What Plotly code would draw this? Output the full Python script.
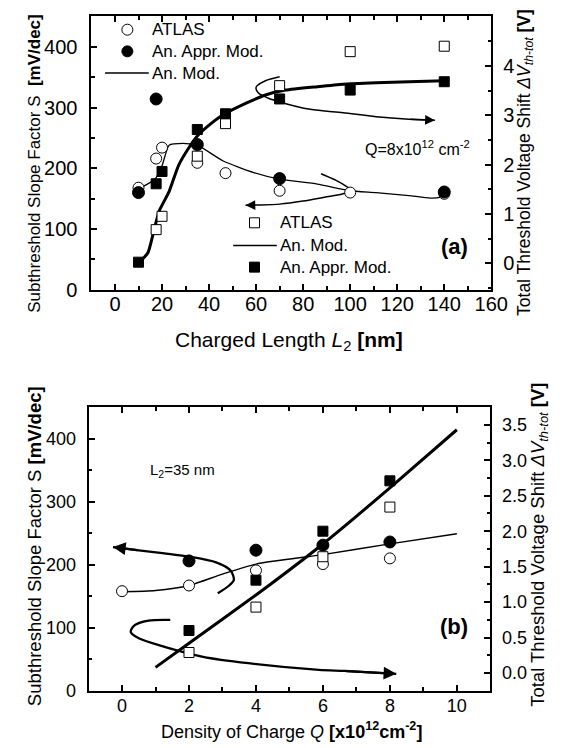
import plotly.graph_objects as go

# ---------------- Panel (a) data: vs charged length L2 [nm] ----------------
L2_atlas_S = [10, 17.5, 20, 35, 47, 70, 100, 140]
S_atlas_a = [168, 216, 234, 209, 192, 163, 160, 158]
L2_appr_S = [10, 17.5, 35, 70, 140]
S_appr_a = [160, 314, 239, 183, 161]
L2_mod_S = [10, 17, 20, 23, 29, 35, 46, 59, 70, 86, 100, 111, 125, 134, 138, 140]
S_mod_a = [166, 182, 204, 238, 241, 238, 212, 193, 182, 174, 163, 160, 155, 151, 152, 157]

L2_atlas_V = [17.5, 20, 35, 47, 70, 100, 140]
V_atlas_a = [0.68, 0.95, 2.17, 2.83, 3.60, 4.29, 4.40]
L2_appr_V = [10, 17.5, 20, 35, 47, 70, 100, 140]
V_appr_a = [0.02, 1.61, 1.86, 2.71, 3.03, 3.33, 3.51, 3.68]
L2_mod_V = [10, 14, 17, 19, 23, 27, 31, 35, 39.5, 46, 56, 64, 72.5, 86, 97, 111, 125, 140]
V_mod_a = [0.0, 0.21, 0.75, 1.08, 1.45, 1.98, 2.31, 2.58, 2.78, 3.01, 3.25, 3.41, 3.51, 3.58, 3.63, 3.66, 3.68, 3.70]

# decorative curved arrows (a)
arrR_a_x = [70, 64, 60, 61, 65, 70, 83, 97, 111, 125, 136]
arrR_a_y = [3.78, 3.70, 3.57, 3.45, 3.35, 3.27, 3.12, 3.05, 2.97, 2.92, 2.90]
arrL_a_x = [87.6, 94, 98, 100.2, 97, 90, 80, 70, 60, 55.5]
arrL_a_y = [191, 180, 171, 164, 158, 153, 146, 141, 139.5, 139]

# ---------------- Panel (b) data: vs density of charge Q [1e12 cm^-2] ----------------
Q_atlas_S = [0, 2, 4, 6, 8]
S_atlas_b = [158, 167, 191, 201, 210]
Q_appr_S = [2, 4, 6, 8]
S_appr_b = [206, 223, 231, 236]
Q_mod_S = [0, 1, 2, 3, 4, 6, 8, 10]
S_mod_b = [157, 159, 167, 185, 201, 216, 233, 249]

Q_atlas_V = [2, 4, 6, 8]
V_atlas_b = [0.29, 0.93, 1.64, 2.34]
Q_appr_V = [2, 4, 6, 8]
V_appr_b = [0.60, 1.31, 2.00, 2.71]
Q_mod_V = [1, 2, 4, 6, 8, 10]
V_mod_b = [0.08, 0.42, 1.10, 1.82, 2.61, 3.43]

arrL_b_x = [2.86, 3.2, 3.34, 3.24, 2.81, 2.04, 1.27, 0.5, -0.27]
arrL_b_y = [154.6, 167, 176, 190.7, 203.6, 212.4, 218, 222.8, 228]
arrR_b_x = [1.44, 0.79, 0.36, 0.26, 0.5, 1.27, 2.42, 3.77, 5.88, 6.65, 8.19]
arrR_b_y = [0.75, 0.74, 0.67, 0.58, 0.49, 0.37, 0.23, 0.14, 0.046, 0.03, -0.01]

# tick labels
xticks_a = [0, 20, 40, 60, 80, 100, 120, 140, 160]
yticks_S = [0, 100, 200, 300, 400]
yticks_Va = [0, 1, 2, 3, 4, 5]
xticks_b = [0, 2, 4, 6, 8, 10]
yticks_Vb = [0.0, 0.5, 1.0, 1.5, 2.0, 2.5, 3.0, 3.5]

# legend entries (label, kind)
legend_a1 = [("ATLAS", "open_circle"), ("An. Appr. Mod.", "filled_circle"), ("An. Mod.", "line")]
legend_a2 = [("ATLAS", "open_square"), ("An. Mod.", "line"), ("An. Appr. Mod.", "filled_square")]

FONT = "Liberation Sans, Arial, sans-serif"
W, H = 576, 748


def px(x):
    return x / W


def py(y):
    return 1 - y / H


fig = go.Figure()

open_c = dict(symbol="circle", size=11, color="white", line=dict(color="black", width=1))
fill_c = dict(symbol="circle", size=12, color="black", line=dict(color="black", width=1))
open_s = dict(symbol="square", size=10, color="white", line=dict(color="black", width=1))
fill_s = dict(symbol="square", size=10, color="black", line=dict(color="black", width=1))

# ---- panel (a) ----
fig.add_trace(go.Scatter(x=arrR_a_x, y=arrR_a_y, mode="lines", xaxis="x", yaxis="y2",
                         line=dict(color="black", width=1.5, shape="spline", smoothing=0.8), hoverinfo="skip"))
fig.add_trace(go.Scatter(x=arrL_a_x, y=arrL_a_y, mode="lines", xaxis="x", yaxis="y",
                         line=dict(color="black", width=1.5, shape="spline", smoothing=0.8), hoverinfo="skip"))
fig.add_trace(go.Scatter(x=L2_mod_V, y=V_mod_a, mode="lines", name="An. Mod.", xaxis="x", yaxis="y2",
                         line=dict(color="black", width=3, shape="spline", smoothing=0.5)))
fig.add_trace(go.Scatter(x=L2_mod_S, y=S_mod_a, mode="lines", name="An. Mod.", xaxis="x", yaxis="y",
                         line=dict(color="black", width=1.3, shape="spline", smoothing=0.5)))
fig.add_trace(go.Scatter(x=L2_atlas_S, y=S_atlas_a, mode="markers", name="ATLAS", xaxis="x", yaxis="y", marker=open_c))
fig.add_trace(go.Scatter(x=L2_atlas_V, y=V_atlas_a, mode="markers", name="ATLAS", xaxis="x", yaxis="y2", marker=open_s))
fig.add_trace(go.Scatter(x=L2_appr_S, y=S_appr_a, mode="markers", name="An. Appr. Mod.", xaxis="x", yaxis="y", marker=fill_c))
fig.add_trace(go.Scatter(x=L2_appr_V, y=V_appr_a, mode="markers", name="An. Appr. Mod.", xaxis="x", yaxis="y2", marker=fill_s))

# ---- panel (b) ----
fig.add_trace(go.Scatter(x=arrL_b_x, y=arrL_b_y, mode="lines", xaxis="x2", yaxis="y3",
                         line=dict(color="black", width=2.3, shape="spline", smoothing=0.8), hoverinfo="skip"))
fig.add_trace(go.Scatter(x=arrR_b_x, y=arrR_b_y, mode="lines", xaxis="x2", yaxis="y4",
                         line=dict(color="black", width=2.3, shape="spline", smoothing=0.8), hoverinfo="skip"))
fig.add_trace(go.Scatter(x=Q_mod_V, y=V_mod_b, mode="lines", xaxis="x2", yaxis="y4",
                         line=dict(color="black", width=3, shape="spline", smoothing=0.4)))
fig.add_trace(go.Scatter(x=Q_mod_S, y=S_mod_b, mode="lines", xaxis="x2", yaxis="y3",
                         line=dict(color="black", width=1.4, shape="spline", smoothing=0.6)))
fig.add_trace(go.Scatter(x=Q_atlas_S, y=S_atlas_b, mode="markers", xaxis="x2", yaxis="y3", marker=open_c))
fig.add_trace(go.Scatter(x=Q_atlas_V, y=V_atlas_b, mode="markers", xaxis="x2", yaxis="y4", marker=open_s))
fig.add_trace(go.Scatter(x=Q_appr_S, y=S_appr_b, mode="markers", xaxis="x2", yaxis="y3", marker=fill_c))
fig.add_trace(go.Scatter(x=Q_appr_V, y=V_appr_b, mode="markers", xaxis="x2", yaxis="y4", marker=fill_s))


def axis_common(size, standoff, **kw):
    d = dict(showgrid=False, zeroline=False, showline=True, linecolor="black", linewidth=2,
             ticks="inside", ticklen=6, tickwidth=1.5, tickcolor="black",
             ticklabelstandoff=standoff,
             tickfont=dict(family=FONT, size=size, color="black"))
    d.update(kw)
    return d


def minor(dt):
    return dict(dtick=dt, tick0=0, ticks="inside", ticklen=3.5, tickwidth=1.5, tickcolor="black")


dom_xa = [px(86), px(498)]
dom_ya = [py(286), py(8.5)]
dom_xb = [px(83), px(497)]
dom_yb = [py(693), py(405)]

fig.update_layout(
    width=W, height=H, autosize=False, showlegend=False,
    margin=dict(l=0, r=0, t=0, b=0),
    paper_bgcolor="white", plot_bgcolor="white",
    font=dict(family=FONT, color="black"),
    xaxis=axis_common(20, -5, domain=dom_xa, anchor="y", range=[-10, 160], tickvals=xticks_a, mirror="ticks",
                      minor=minor(10)),
    yaxis=axis_common(20, 8, domain=dom_ya, anchor="x", range=[0, 450], tickvals=yticks_S, minor=minor(50)),
    yaxis2=axis_common(20, 6, overlaying="y", anchor="x", side="right", range=[-0.54, 5.005], tickvals=yticks_Va,
                       minor=minor(0.5)),
    xaxis2=axis_common(18, -2, domain=dom_xb, anchor="y3", range=[-1, 11], tickvals=xticks_b, mirror="ticks",
                       minor=minor(1)),
    yaxis3=axis_common(18, 7, domain=dom_yb, anchor="x2", range=[0, 450], tickvals=yticks_S, minor=minor(50)),
    yaxis4=axis_common(18, 6, overlaying="y3", anchor="x2", side="right", range=[-0.25, 3.75], tickvals=yticks_Vb,
                       tickformat=".1f", minor=minor(0.25)),
)

ann = []
shapes = []


def text_ann(x, y, text, size, angle=0, **kw):
    d = dict(x=px(x), y=py(y), xref="paper", yref="paper", text=text, showarrow=False,
             font=dict(family=FONT, size=size, color="black"), textangle=angle,
             xanchor="center", yanchor="middle")
    d.update(kw)
    ann.append(d)


def legend_block(entries, mx, text_x, rows, line_x0, line_x1):
    for (label, kind), ry in zip(entries, rows):
        if kind == "line":
            shapes.append(dict(type="line", xref="paper", yref="paper", x0=px(line_x0), x1=px(line_x1),
                               y0=py(ry), y1=py(ry), line=dict(color="black", width=1.5)))
        else:
            r = 5.5 if "circle" in kind else 5
            fill = "white" if kind.startswith("open") else "black"
            shapes.append(dict(type="circle" if "circle" in kind else "rect",
                               xref="paper", yref="paper", xsizemode="pixel", ysizemode="pixel",
                               xanchor=px(mx), yanchor=py(ry), x0=-r, x1=r, y0=-r, y1=r,
                               fillcolor=fill, line=dict(color="black", width=1)))
        text_ann(text_x, ry, label, 17, xanchor="left")


legend_block(legend_a1, 123, 146, [22, 44, 66], 100, 145)
legend_block(legend_a2, 254, 278, [218, 241, 263], 232, 277)

NB = "\u00a0"
# axis titles (a)
text_ann(28, 158, "Subthreshold Slope Factor S" + NB + NB + "<b>[mV/dec]</b>", 17, -90)
text_ann(533, 157, "Total Threshold Voltage Shift <i>ΔV<sub>th-tot</sub></i> <b>[V]</b>", 17.5, -90)
text_ann(290, 338, "Charged Length <i>L</i><sub>2</sub> <b>[nm]</b>", 21)
text_ann(422, 142, "Q=8x10<sup>12</sup> cm<sup>-2</sup>", 16)
text_ann(460, 242, "<b>(a)</b>", 22)
# axis titles (b)
text_ann(28, 546, "Subthreshold Slope Factor S <b>[mV/dec]</b>", 18.5, -90)
text_ann(547, 545, "Total Threshold Voltage Shift <i>ΔV<sub>th-tot</sub></i> <b>[V]</b>", 18.5, -90)
text_ann(292, 733, "Density of Charge <i>Q</i> <b>[x10<sup>12</sup>cm<sup>-2</sup>]</b>", 18)
text_ann(180, 469, "L<sub>2</sub>=35 nm", 15)
text_ann(460, 628, "<b>(b)</b>", 22)


def arrow_head(xs, ys, xref, yref, width, size):
    ann.append(dict(x=xs[-1], y=ys[-1], ax=xs[-2], ay=ys[-2], xref=xref, yref=yref,
                    axref=xref, ayref=yref, text="", showarrow=True, arrowhead=2,
                    arrowsize=size, arrowwidth=width, arrowcolor="black", standoff=0))


arrow_head(arrR_a_x, arrR_a_y, "x", "y2", 1.5, 1.3)
arrow_head(arrL_a_x, arrL_a_y, "x", "y", 1.5, 1.3)
arrow_head(arrL_b_x, arrL_b_y, "x2", "y3", 2.3, 1.1)
arrow_head(arrR_b_x, arrR_b_y, "x2", "y4", 2.3, 1.1)

fig.update_layout(annotations=ann, shapes=shapes)

fig.write_html("out.html")
